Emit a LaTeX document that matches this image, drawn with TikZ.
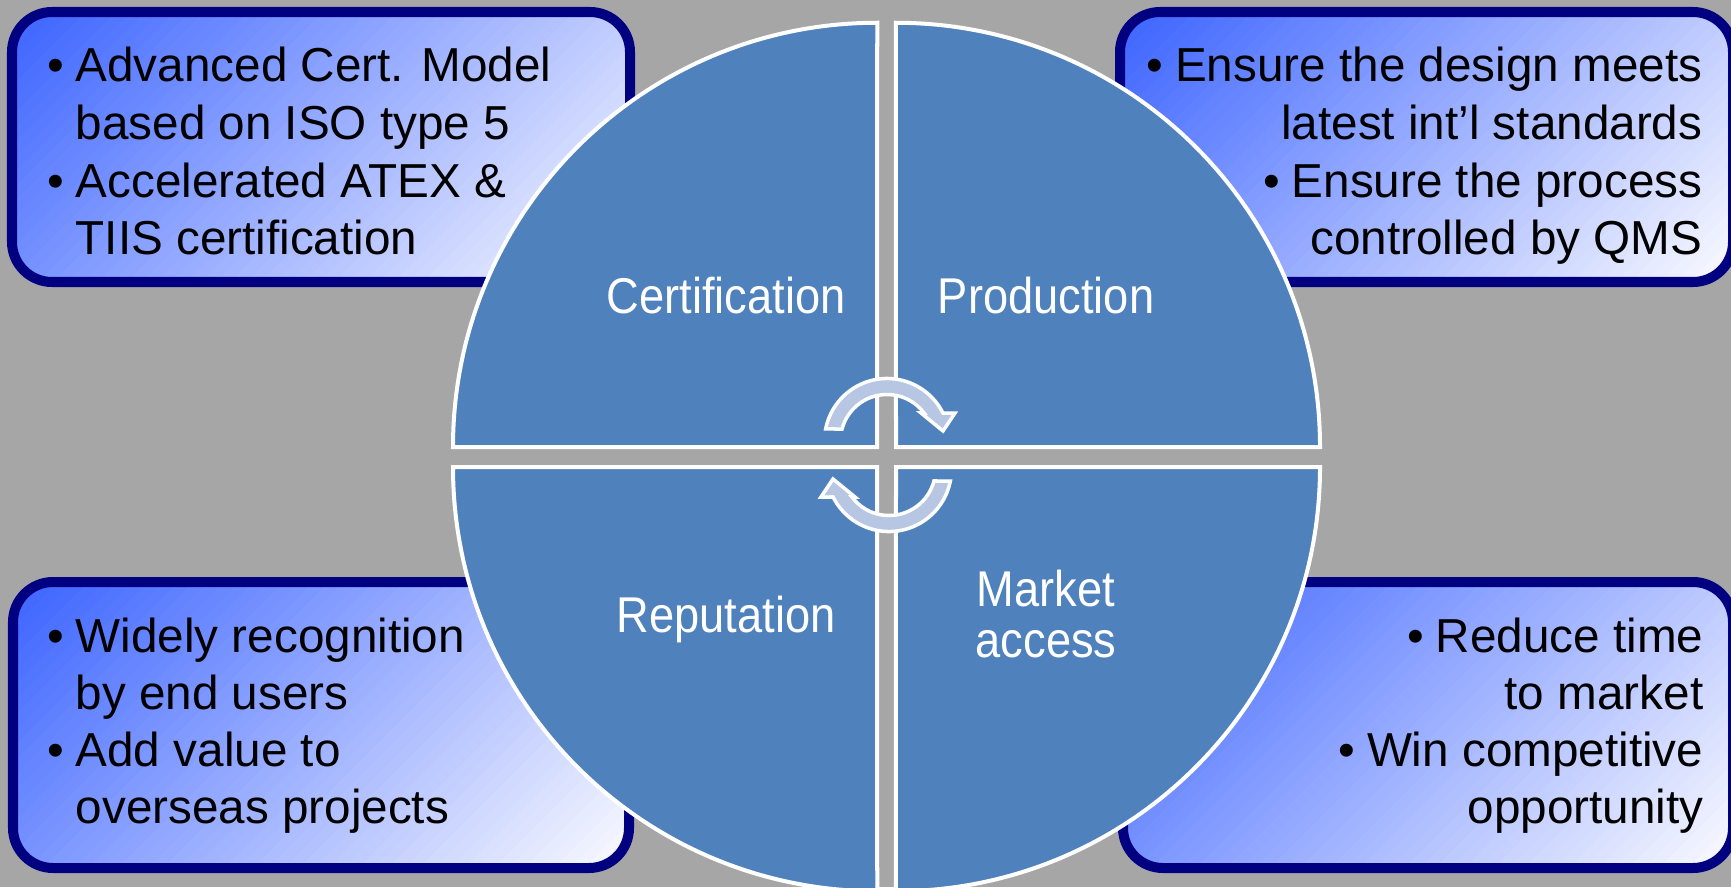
\documentclass[tikz,border=0pt]{standalone}
\usepackage{fontspec}
\setmainfont{Liberation Sans}
\newfontfamily\narrowsans[FakeStretch=0.9]{Liberation Sans}
\usetikzlibrary{calc}
\definecolor{bgray}{RGB}{166,166,166}
\definecolor{quadblue}{RGB}{79,129,189}
\definecolor{boxnavy}{RGB}{0,0,128}
\definecolor{boxblue}{RGB}{60,100,255}
\definecolor{boxwhite}{RGB}{250,250,255}
\definecolor{arrowfill}{RGB}{182,198,227}
\newcommand\bulletbox{\makebox[0.283cm][l]{•}}
% info box: corners (#1,#2) top-left and (#3,#4) bottom-right of the border centre line
\newcommand\infobox[4]{%
  \begin{scope}
    \clip[rounded corners=0.4cm] (#1,#2) rectangle (#3,#4);
    \pgfmathsetmacro\gradstep{(#3-#1+#2-#4)/sqrt(2)/60}
    \begin{scope}[shift={(#1,#2)},rotate=-45]
      \foreach \i in {0,...,59}{
        \pgfmathsetmacro\gradpct{max(0,100-\i*100/59)}
        \pgfmathsetmacro\gradlo{\i*\gradstep}
        \pgfmathsetmacro\gradhi{(\i+1)*\gradstep+2}
        \fill[boxblue!\gradpct!boxwhite] (\gradlo,-800) rectangle (\gradhi,800);
      }
    \end{scope}
  \end{scope}
  \path[boxframe] (#1,#2) rectangle (#3,#4);
}
\begin{document}
\begin{tikzpicture}[x=0.01cm,y=0.01cm,
  boxframe/.style={draw=boxnavy,line width=0.1cm,rounded corners=0.4cm},
  quarter/.style={fill=quadblue,draw=white,line width=0.04cm},
  boxtext/.style={inner sep=0,font=\fontsize{13.55}{16}\selectfont,text=black},
  quadtext/.style={inner sep=0,font=\narrowsans\fontsize{14.3}{17}\selectfont,text=white},
  cyc/.style={fill=arrowfill,draw=white,line width=0.035cm}]
\useasboundingbox (0,0) rectangle (1731,887);
\fill[bgray] (0,0) rectangle (1731,887);
\clip (0,0) rectangle (1731,887);

% info boxes
\infobox{12}{875}{630}{605}
\infobox{1120}{875}{1733}{605}
\infobox{13}{305}{629}{19}
\infobox{1123}{305}{1733}{19}

% quarter discs
\path[quarter] (877,440) -- (453,440) arc[start angle=180,end angle=90,radius=4.24cm] -- cycle;
\path[quarter] (896,440) -- (1320,440) arc[start angle=0,end angle=90,radius=4.24cm] -- cycle;
\path[quarter] (877,420) -- (453,420) arc[start angle=180,end angle=270,radius=4.24cm] -- cycle;
\path[quarter] (896,420) -- (1320,420) arc[start angle=0,end angle=-90,radius=4.24cm] -- cycle;

% quarter labels
\node[quadtext,anchor=base] (cert) at (726,574) {Certification};
\node[quadtext,anchor=base] (prod) at (1046,574) {Production};
\node[quadtext,anchor=base] (rep) at (726,255) {Reputation};
\node[quadtext,anchor=base] (mkt1) at (1046,281) {Market};
\node[quadtext,anchor=base] (mkt2) at (1046,230) {access};

% box texts
\node[boxtext,anchor=base west] (tl1) at (46.7,805) {\bulletbox Advanced Cert. Model};
\node[boxtext,anchor=base west] (tl2) at (75,748) {based on ISO type 5};
\node[boxtext,anchor=base west] (tl3) at (46.7,690) {\bulletbox Accelerated ATEX \&};
\node[boxtext,anchor=base west] (tl4) at (75,633) {TIIS certification};

\node[boxtext,anchor=base east] (tr1) at (1703,805) {\bulletbox Ensure the design meets};
\node[boxtext,anchor=base east] (tr2) at (1703,748) {latest int’l standards};
\node[boxtext,anchor=base east] (tr3) at (1703,690) {\bulletbox Ensure the process};
\node[boxtext,anchor=base east] (tr4) at (1703,633) {controlled by QMS};

\node[boxtext,anchor=base west] (bl1) at (46.7,235) {\bulletbox Widely recognition};
\node[boxtext,anchor=base west] (bl2) at (75,178) {by end users};
\node[boxtext,anchor=base west] (bl3) at (46.7,121) {\bulletbox Add value to};
\node[boxtext,anchor=base west] (bl4) at (75,64) {overseas projects};

\node[boxtext,anchor=base east] (br1) at (1704,235) {\bulletbox Reduce time};
\node[boxtext,anchor=base east] (br2) at (1704,178) {to market};
\node[boxtext,anchor=base east] (br3) at (1704,121) {\bulletbox Win competitive};
\node[boxtext,anchor=base east] (br4) at (1704,64) {opportunity};

% circular arrows
\path[cyc] ($(887,446)+(168.9:62.5)$) arc[start angle=168.9,end angle=26.6,radius=0.625cm]
  -- (955,474) -- (943,456) -- (921,474) -- ($(887,446)+(37.0:46.5)$)
  arc[start angle=37.0,end angle=165.05,radius=0.465cm] -- cycle;
\begin{scope}[rotate around={180:(888,432)}]
\path[cyc] ($(887,446)+(168.9:62.5)$) arc[start angle=168.9,end angle=26.6,radius=0.625cm]
  -- (955,474) -- (943,456) -- (921,474) -- ($(887,446)+(37.0:46.5)$)
  arc[start angle=37.0,end angle=165.05,radius=0.465cm] -- cycle;
\end{scope}
\end{tikzpicture}
\end{document}
